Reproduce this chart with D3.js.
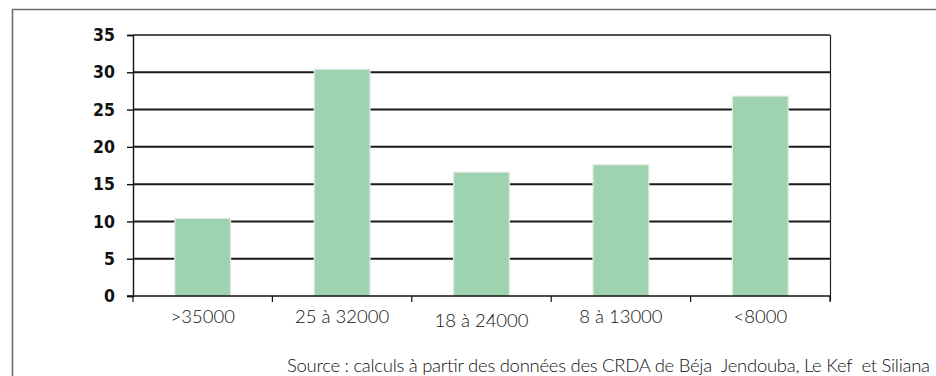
<!DOCTYPE html>
<html>
<head>
<meta charset="utf-8">
<script src="https://cdn.jsdelivr.net/npm/d3@7/dist/d3.min.js"></script>
<style>
  html, body { margin: 0; padding: 0; background: #fff; }
  svg { display: block; }
  text { white-space: pre; }
</style>
</head>
<body>
<svg id="chart" width="936" height="376"></svg>
<script>
// Share of farms by income bracket (%)
const categories = [">35000", "25 à 32000", "18 à 24000", "8 à 13000", "<8000"];
const values = [10.4, 30.4, 16.6, 17.6, 26.8];
const yTicks = [0, 5, 10, 15, 20, 25, 30, 35];
const sourceText = "Source : calculs à partir des données des CRDA de Béja  Jendouba, Le Kef  et Siliana";

const svg = d3.select("#chart");
const plot = { left: 133, right: 830, top: 35, bottom: 296 };

const x = d3.scaleBand()
  .domain(categories)
  .range([plot.left, plot.right])
  .paddingInner(0.6)
  .paddingOuter(0.3);

const y = d3.scaleLinear()
  .domain([0, 35])
  .range([plot.bottom, plot.top]);

// outer frame
svg.append("path")
  .attr("d", `M12.5,376 V9.5 H936`)
  .attr("fill", "none")
  .attr("stroke", "#6e6e6e")
  .attr("stroke-width", 1.6);

// horizontal grid lines
svg.append("g")
  .selectAll("line")
  .data(yTicks.filter(d => d > 0))
  .join("line")
  .attr("x1", plot.left)
  .attr("x2", plot.right)
  .attr("y1", d => y(d))
  .attr("y2", d => y(d))
  .attr("stroke", "#1a1a1a")
  .attr("stroke-width", d => d === 35 ? 1.4 : 2);

// bars
svg.append("g")
  .selectAll("rect")
  .data(categories)
  .join("rect")
  .attr("x", d => x(d))
  .attr("width", x.bandwidth())
  .attr("y", (d, i) => y(values[i]))
  .attr("height", (d, i) => y(0) - y(values[i]))
  .attr("fill", "#9dd4af")
  .attr("stroke", "#e2e8e4")
  .attr("stroke-width", 1.2);

// right border of plot
svg.append("line")
  .attr("x1", plot.right + 0.5).attr("x2", plot.right + 0.5)
  .attr("y1", plot.top).attr("y2", plot.bottom + 5)
  .attr("stroke", "#222").attr("stroke-width", 1.2);

// y axis
const yAxis = svg.append("g")
  .attr("transform", `translate(${plot.left},0)`)
  .call(d3.axisLeft(y).tickValues(yTicks).tickSize(6).tickPadding(12));
yAxis.select(".domain").attr("stroke", "#111").attr("stroke-width", 1.4);
yAxis.selectAll(".tick line").attr("stroke", "#111").attr("stroke-width", 1.4);
yAxis.selectAll(".tick text")
  .attr("font-family", "'Liberation Sans Narrow', 'DejaVu Sans Condensed', sans-serif")
  .attr("font-weight", "bold")
  .attr("font-size", 17.5)
  .attr("fill", "#111");

// x axis with ticks at band boundaries
const step = x.step();
const bounds = categories.map(d => x(d) - (step - x.bandwidth()) / 2).concat([plot.right]);
const xAxis = svg.append("g");
xAxis.append("line")
  .attr("x1", plot.left - 6).attr("x2", plot.right)
  .attr("y1", plot.bottom).attr("y2", plot.bottom)
  .attr("stroke", "#111").attr("stroke-width", 1.4);
xAxis.selectAll("line.tk")
  .data(bounds)
  .join("line")
  .attr("class", "tk")
  .attr("x1", d => d).attr("x2", d => d)
  .attr("y1", plot.bottom).attr("y2", plot.bottom + 6)
  .attr("stroke", "#111").attr("stroke-width", 1.2);

xAxis.selectAll("text")
  .data(categories)
  .join("text")
  .attr("x", d => x(d) + x.bandwidth() / 2)
  .attr("y", (d, i) => i === 2 ? 327 : 323)
  .attr("text-anchor", "middle")
  .attr("font-family", "Lato, 'Open Sans', sans-serif")
  .attr("font-weight", 300)
  .attr("font-size", 18.5)
  .attr("fill", "#111")
  .text(d => d);

// source note
svg.append("text")
  .attr("x", 930)
  .attr("y", 372)
  .attr("text-anchor", "end")
  .attr("font-family", "Lato, 'Open Sans', sans-serif")
  .attr("font-weight", 300)
  .attr("font-size", 18.5)
  .attr("textLength", 643)
  .attr("lengthAdjust", "spacing")
  .attr("fill", "#111")
  .text(sourceText);
</script>
</body>
</html>
